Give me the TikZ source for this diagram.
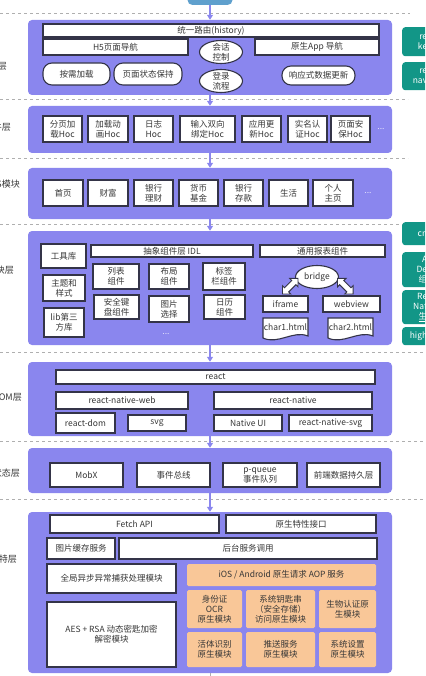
\documentclass[tikz,border=0pt]{standalone}
\usepackage{fontspec}
\setmainfont{Noto Sans CJK SC}
\usetikzlibrary{arrows.meta,shapes.geometric,shapes.arrows}
\definecolor{morado}{RGB}{138,134,238}
\definecolor{borde}{RGB}{52,52,72}
\definecolor{naranja}{RGB}{249,199,152}
\definecolor{verde}{RGB}{18,150,135}
\definecolor{azul}{RGB}{95,160,205}
\definecolor{gris}{RGB}{175,175,175}
\definecolor{texto}{RGB}{55,55,55}

\begin{document}
\begin{tikzpicture}[x=1pt, y=-1pt,
    font=\fontsize{8.5}{10}\selectfont, text=texto,
    capa/.style={fill=morado, rounded corners=4pt, minimum width=364pt, inner sep=0pt},
    caja/.style={draw=borde, fill=white, line width=1.1pt, inner sep=0pt, align=center},
    pastilla/.style={caja, rounded corners=9pt},
    ovalo/.style={caja, ellipse, inner sep=-4pt, minimum width=43pt, minimum height=23pt},
    aop/.style={fill=naranja, rounded corners=1.5pt, inner sep=0pt, align=center},
    lateral/.style={fill=verde, rounded corners=3pt, text=white, anchor=north west,
      text width=22pt, inner xsep=3pt, inner ysep=0pt, align=right},
    flechadoble/.style={double arrow, draw=borde, fill=white, line width=0.9pt,
      minimum height=22pt, inner sep=2.5pt, double arrow head extend=3pt},
    puntos/.style={text=white!80!morado},
    flecha/.style={draw=morado, line width=1.3pt, -{Triangle[width=6pt,length=5pt]}},
    corte/.style={draw=gris, dashed, line width=0.6pt},
  ]
    \useasboundingbox (0,0) rectangle (425,676);
    \clip (0,0) rectangle (425,676);

    % Separadores
    \foreach \y/\xe in {13/410, 99/408, 158/408, 224/425, 352/425, 441/425, 499/425}
        \draw[corte] (0,\y) -- (\xe,\y);

    % Capas
    \foreach \n/\ya/\yb in {s1/20/95, s2/106/153, s3/168/219, s4/231/345,
        s5/362/436, s6/448/493, s7/512/673} {
        \node[capa, minimum height=\yb-\ya] (\n) at (210, {(\ya+\yb)/2}) {};
    }
    \node[fill=azul, rounded corners=5pt, minimum width=45pt, minimum height=16pt] (inicio) at (210,-3) {};
    \foreach \a/\b in {inicio/s1, s1/s2, s2/s3, s3/s4, s4/s5, s5/s6, s6/s7}
        \draw[flecha] (\a) -- (\b);
    \draw[gris, line width=0.6pt] (s7.south) -- ++(0,6);

    % Etiquetas laterales
    \foreach \y/\xe/\val [count=\i] in {66/7/层, 127/11/件层, 184/20/S模块, 270/14/块层,
        397/22/OM层, 473/20/状态层, 559/17/特层}
        \node[anchor=east, inner sep=0pt, font=\fontsize{9}{10}\selectfont] (et\i) at (\xe,\y) {\val};
    \foreach \ya/\yb/\val [count=\i] in {27/56/{re\\ke}, 62/90/{re\\nav}, 222/245/cn,
        252/287/{A\\De\\组}, 290/324/{Re\\Nat\\\underline{生}}, 327/345/high}
        \node[lateral, minimum height=\yb-\ya] (lat\i) at (402,\ya) {\val};

    % Capa 1
    \node[caja, minimum width=336, minimum height=13] (ruta) at (211,30.5) {统一路由(history)};
    \foreach \n/\xa/\xb/\val in {h5/43/188/H5页面导航, app/255/379/原生App 导航}
        \node[caja, minimum width=\xb-\xa, minimum height=16] (\n) at ({(\xa+\xb)/2},47) {\val};
    \foreach \n/\xa/\xb/\ya/\yb/\val in {carga/43/110/63/85/按需加载,
        estado/114/182/63/85/页面状态保持, datos/282/355/66/85/响应式数据更新}
        \node[pastilla, minimum width=\xb-\xa, minimum height=\yb-\ya] (\n) at ({(\xa+\xb)/2},{(\ya+\yb)/2}) {\val};
    \node[ovalo] (sesion) at (221,52) {会话\\控制};
    \node[ovalo] (login) at (221,81) {登录\\流程};

    % Capa 2
    \foreach \xa/\xb/\val [count=\i] in {43/82/{分页加\\载Hoc}, 88/128/{加载动\\画Hoc},
        134/173/{日志\\Hoc}, 180/235/{输入双向\\绑定Hoc}, 242/281/{应用更\\新Hoc},
        288/327/{实名认\\证Hoc}, 331/370/{页面安\\保Hoc}}
        \node[caja, minimum width=\xb-\xa, minimum height=26] (hoc\i) at ({(\xa+\xb)/2},129) {\val};
    \node[puntos] (mas2) at (381,129) {...};

    % Capa 3
    \foreach \xa/\xb/\val [count=\i] in {43/83/首页, 88/128/财富, 134/173/{银行\\理财},
        179/218/{货币\\基金}, 224/263/{银行\\存款}, 269/308/生活, 313/353/{个人\\主页}}
        \node[caja, minimum width=\xb-\xa, minimum height=26] (mod\i) at ({(\xa+\xb)/2},193) {\val};
    \node[puntos] (mas3) at (368,193) {...};

    % Capa 4
    \foreach \n/\xa/\xb/\ya/\yb/\val in {herr/41/86/244/268/工具库,
        tema/43/85/275/301/{主题和\\样式}, lib/44/84/308/337/{lib第三\\方库},
        idl/91/253/245/257/抽象组件层 IDL, reporte/260/385/245/257/通用报表组件,
        c1/93/139/264/289/{列表\\组件}, c2/149/189/264/289/{布局\\组件},
        c3/203/245/263/290/{标签\\栏组件}, c4/94/139/295/319/{安全键\\盘组件},
        c5/149/189/296/322/{图片\\选择}, c6/204/245/295/319/{日历\\组件},
        iframe/263/308/296/312/iframe, webview/323/380/296/312/webview}
        \node[caja, minimum width=\xb-\xa, minimum height=\yb-\ya] (\n) at ({(\xa+\xb)/2},{(\ya+\yb)/2}) {\val};
    \node[puntos] (mas4) at (166,334) {...};
    \node[ovalo] (bridge) at (317,277) {bridge};
    \path (iframe.north) -- (bridge.west) node[midway, flechadoble, rotate=45] (fd1) {};
    \path (webview.north) -- (bridge.east) node[midway, flechadoble, rotate=-45] (fd2) {};
    \foreach \xa/\xb in {263/308, 328/373}
        \draw[caja] (\xa,318) -- (\xb,318) -- (\xb,336)
            .. controls (\xb-15,330) and (\xa+15,345) .. (\xa,338) -- cycle;
    \node (char1) at (285.5,327) {char1.html};
    \node (char2) at (350.5,327) {char2.html};

    % Capa 5
    \foreach \n/\xa/\xb/\ya/\yb/\val in {react/56/375/370/384/react,
        rnweb/56/188/392/409/react-native-web, rnative/214/372/392/409/react-native,
        rdom/56/115/413/433/react-dom, svg/128/186/415/431/svg,
        nui/214/282/415/431/Native UI, rnsvg/289/372/415/431/react-native-svg}
        \node[caja, minimum width=\xb-\xa, minimum height=\yb-\ya] (\n) at ({(\xa+\xb)/2},{(\ya+\yb)/2}) {\val};

    % Capa 6
    \foreach \xa/\xb/\val [count=\i] in {50/123/MobX, 137/210/事件总线,
        223/297/{p-queue\\事件队列}, 307/380/前端数据持久层}
        \node[caja, minimum width=\xb-\xa, minimum height=24] (est\i) at ({(\xa+\xb)/2},475) {\val};

    % Capa 7
    \foreach \n/\xa/\xb/\ya/\yb/\val in {fetch/50/219/515/533/Fetch API,
        nativo/226/376/515/533/原生特性接口, cache/47/115/538/559/图片缓存服务,
        backend/119/377/538/559/后台服务调用, global/47/176/564/593/全局异步异常捕获处理模块,
        cifrado/47/176/602/667/{AES + RSA 动态密匙加密\\解密模块}}
        \node[caja, minimum width=\xb-\xa, minimum height=\yb-\ya] (\n) at ({(\xa+\xb)/2},{(\ya+\yb)/2}) {\val};
    \node[aop, minimum width=189, minimum height=22] (aop) at (281.5,575) {iOS / Android 原生请求 AOP 服务};
    \foreach \n/\xa/\xb/\ya/\yb/\val in {m1/187/242/590/628/{身份证\\OCR\\原生模块},
        m2/246/315/590/628/{系统钥匙串\\（安全存储）\\访问原生模块},
        m3/319/376/590/628/{生物认证原\\生模块}, m4/187/242/632/667/{活体识别\\原生模块},
        m5/246/315/632/667/{推送服务\\原生模块}, m6/319/376/632/667/{系统设置\\原生模块}}
        \node[aop, minimum width=\xb-\xa, minimum height=\yb-\ya] (\n) at ({(\xa+\xb)/2},{(\ya+\yb)/2}) {\val};
\end{tikzpicture}
\end{document}
